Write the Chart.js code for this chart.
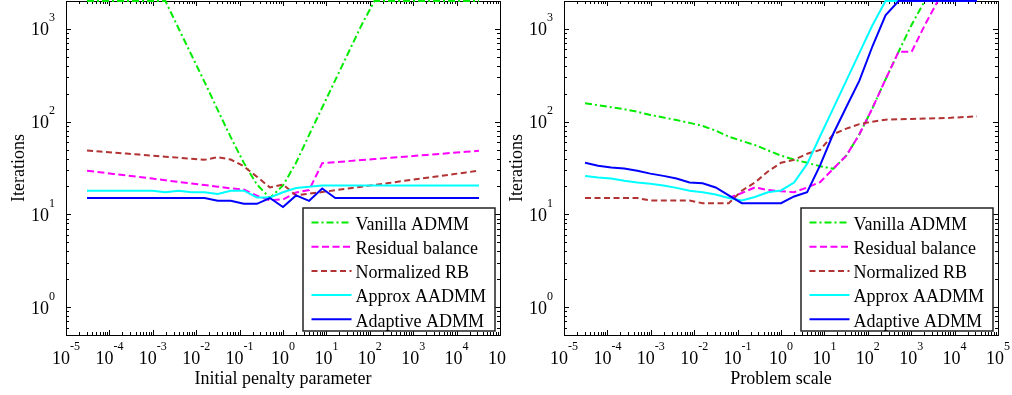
<!DOCTYPE html>
<html>
<head>
<meta charset="utf-8">
<script src="https://cdn.jsdelivr.net/npm/chart.js@4.4.1/dist/chart.umd.min.js"></script>
<style>
  html, body { margin: 0; padding: 0; background: #fff; }
  #wrap { position: relative; width: 1012px; height: 395px; }
  canvas { position: absolute; top: 0; }
  #left { left: 0; }
  #right { left: 506px; }
</style>
</head>
<body>
<div id="wrap">
  <canvas id="left" width="506" height="395"></canvas>
  <canvas id="right" width="506" height="395"></canvas>
</div>
<script>
// sweep points (powers of two, 2^-15 .. 2^15)
const xs = [3.0518e-5, 6.1035e-5, 1.2207e-4, 2.4414e-4, 4.8828e-4, 9.7656e-4, 1.9531e-3,
  3.9063e-3, 7.8125e-3, 0.015625, 0.03125, 0.0625, 0.125, 0.25, 0.5, 1, 2, 4, 8, 16, 32,
  64, 128, 256, 512, 1024, 2048, 4096, 8192, 16384, 32768];

const seriesNames = ['Vanilla ADMM', 'Residual balance', 'Normalized RB', 'Approx AADMM', 'Adaptive ADMM'];

// iterations vs initial penalty parameter
const penVanilla = [2000, 2000, 2000, 2000, 2000, 2000, 2000, 1017, 521, 267, 134, 68, 36, 21, 15,
  20.5, 36, 72, 142, 280, 553, 1091, 2000, 2000, 2000, 2000, 2000, 2000, 2000, 2000, 2000];
const penResidual = [29.5, 28.4, 27.3, 26.3, 25.3, 24.3, 23.3, 22.4, 21.5, 20.7, 19.9, 19.1, 18.5, 15.9, 14.2,
  14.5, 17.2, 18.3, 35.6, 36.5, 37.5, 38.5, 39.5, 40.5, 41.6, 42.6, 43.8, 44.9, 46.1, 47.3, 48.5];
const penNormalized = [48.8, 47.6, 46.4, 45.2, 44.1, 43.0, 41.9, 40.9, 39.8, 38.8, 41.4, 39, 33, 25.5, 19.5,
  21, 16, 16.7, 17.4, 18.2, 19.0, 19.9, 20.8, 21.7, 22.7, 23.7, 24.8, 25.9, 27.1, 28.3, 29.6];
const penApprox = [18, 18, 18, 18, 18, 18, 17.3, 18, 17.3, 17.3, 16.6, 18, 18, 15.2, 15.2,
  17.3, 19.2, 19.8, 20.5, 20.5, 20.5, 20.5, 20.5, 20.5, 20.5, 20.5, 20.5, 20.5, 20.5, 20.5, 20.5];
const penAdaptive = [15, 15, 15, 15, 15, 15, 15, 15, 15, 15, 14, 14, 13, 13, 15,
  12, 16, 14, 19, 15, 15, 15, 15, 15, 15, 15, 15, 15, 15, 15, 15];

// iterations vs problem scale (residual balance hidden under the other curves at small scales)
const scaleVanilla = [158, 150, 143, 136, 128, 118, 111, 104, 97, 90, 80, 69, 62, 56, 49,
  43, 39, 36, 33, 31, 43, 73, 140, 285, 567, 1110, 2000, 2000, 2000, 2000, 2000];
const scaleResidual = [null, null, null, null, null, null, null, null, null, null, null, 15, 17, 19.5, 18.3,
  17.8, 17.3, 19.5, 22.3, 31, 43, 73, 140, 285, 567, 567, 1095, 2000, 2000, 2000, 2000];
const scaleNormalized = [15, 15, 15, 15, 15, 14.1, 14.1, 14.1, 14.1, 13.2, 13.2, 13.2, 18, 22, 29,
  36, 38.7, 45, 49.5, 73, 84, 94, 100, 105, 106, 107, 108, 109, 110, 112, 114];
const scaleApprox = [26, 25, 24.4, 23, 22, 21.4, 20.5, 19.3, 18, 17.3, 16.4, 15, 14.1, 15.4, 17.3,
  18.1, 22, 35, 70, 139, 277, 551, 1096, 2000, 2000, 2000, 2000, 2000, 2000, 2000, 2000];
const scaleAdaptive = [36, 33.5, 32, 31.3, 29.5, 27.5, 26, 24.4, 22.1, 21.6, 19.5, 16, 13.2, 13.2, 13.2,
  13.2, 15.6, 17.3, 34, 74, 144, 277, 650, 1400, 2000, 2000, 2000, 2000, 2000, 2000, 2000];

const xTicks = [1e-5, 1e-4, 1e-3, 1e-2, 1e-1, 1, 10, 100, 1000, 1e4, 1e5];
const yTicks = [1, 10, 100, 1000];

const colors = ['rgb(0,235,0)', '#ff00ff', 'rgb(178,51,51)', '#00ffff', '#0000ff'];
const dashes = [[7, 3, 2, 3], [7, 3.5], [6, 3.5], [], []];
const FONT = '"Liberation Serif", "Times New Roman", serif';

// power-of-ten label: "10" with a raised exponent
function powLabel(ctx, v, x, y, align) {
  const e = String(Math.round(Math.log10(v)));
  ctx.font = '18px ' + FONT;
  const wb = ctx.measureText('10').width;
  ctx.font = '12px ' + FONT;
  const we = ctx.measureText(e).width;
  const left = align === 'center' ? x - (wb + we) / 2 : x - wb - we;
  ctx.textAlign = 'left';
  ctx.textBaseline = 'alphabetic';
  ctx.font = '18px ' + FONT;
  ctx.fillText('10', left, y);
  ctx.font = '12px ' + FONT;
  ctx.fillText(e, left + wb, y - 14);
}

// box and inward ticks go under the curves
const frame = {
  id: 'frame',
  beforeDatasetsDraw(chart) {
    const { ctx, chartArea: a, scales: { x, y } } = chart;
    ctx.save();
    ctx.strokeStyle = '#000';
    ctx.lineWidth = 1;
    ctx.beginPath();
    for (let e = -5; e <= 4; e++) {
      for (let m = 1; m <= 9; m++) {
        const px = Math.round(x.getPixelForValue(m * Math.pow(10, e))) + 0.5;
        const len = m === 1 ? 5 : 3;
        ctx.moveTo(px, a.bottom); ctx.lineTo(px, a.bottom - len);
        ctx.moveTo(px, a.top); ctx.lineTo(px, a.top + len);
      }
    }
    for (let e = -1; e <= 3; e++) {
      for (let m = 1; m <= 9; m++) {
        const v = m * Math.pow(10, e);
        if (v < 0.5 || v > 2000) continue;
        const py = Math.round(y.getPixelForValue(v)) + 0.5;
        const len = m === 1 ? 5 : 3;
        ctx.moveTo(a.left, py); ctx.lineTo(a.left + len, py);
        ctx.moveTo(a.right, py); ctx.lineTo(a.right - len, py);
      }
    }
    ctx.stroke();
    ctx.strokeRect(Math.round(a.left) + 0.5, Math.round(a.top) + 0.5,
      Math.round(a.right - a.left), Math.round(a.bottom - a.top));
    ctx.restore();
  },
  afterDraw(chart, args, opts) {
    const { ctx, chartArea: a, scales: { x, y } } = chart;
    ctx.save();
    ctx.fillStyle = '#000';

    xTicks.forEach(v => powLabel(ctx, v, x.getPixelForValue(v), a.bottom + 29, 'center'));
    yTicks.forEach(v => powLabel(ctx, v, a.left - 11, y.getPixelForValue(v) + 6.5, 'right'));

    // axis titles
    ctx.font = '18px ' + FONT;
    ctx.textAlign = 'center';
    ctx.textBaseline = 'alphabetic';
    ctx.fillText(opts.title, (a.left + a.right) / 2, a.bottom + 49);
    ctx.save();
    ctx.translate(a.left - 42, (a.top + a.bottom) / 2);
    ctx.rotate(-Math.PI / 2);
    ctx.fillText('Iterations', 0, 0);
    ctx.restore();

    // legend box
    const bw = 192, bh = 123;
    const bx = a.right - 5 - bw, by = a.bottom - 4 - bh;
    ctx.fillStyle = '#fff';
    ctx.fillRect(bx, by, bw, bh);
    ctx.strokeStyle = '#222';
    ctx.lineWidth = 1.5;
    ctx.strokeRect(bx, by, bw, bh);
    seriesNames.forEach((name, i) => {
      const ly = by + 14.5 + i * 24.2;
      ctx.beginPath();
      ctx.strokeStyle = colors[i];
      ctx.lineWidth = 2;
      ctx.setLineDash(dashes[i]);
      ctx.moveTo(bx + 8.5, ly);
      ctx.lineTo(bx + 48.5, ly);
      ctx.stroke();
      ctx.setLineDash([]);
      ctx.fillStyle = '#000';
      ctx.font = '18px ' + FONT;
      ctx.textAlign = 'left';
      ctx.fillText(name, bx + 52.5, ly + 7.3);
    });
    ctx.restore();
  }
};

function makePanel(id, title, series, pad) {
  return new Chart(document.getElementById(id), {
    type: 'line',
    data: {
      datasets: series.map((vals, i) => ({
        label: seriesNames[i],
        data: xs.map((xv, j) => ({ x: xv, y: vals[j] })),
        borderColor: colors[i],
        borderWidth: 2,
        borderDash: dashes[i],
        pointRadius: 0,
        fill: false,
        tension: 0,
        spanGaps: false,
        clip: 2,
        order: 5 - i
      }))
    },
    options: {
      responsive: false,
      animation: false,
      devicePixelRatio: 1,
      layout: { padding: pad },
      scales: {
        x: { type: 'logarithmic', min: 1e-5, max: 1e5, display: false },
        y: { type: 'logarithmic', min: 0.5, max: 2000, display: false }
      },
      plugins: {
        legend: { display: false },
        tooltip: { enabled: false },
        frame: { title: title }
      }
    },
    plugins: [frame]
  });
}

makePanel('left', 'Initial penalty parameter',
  [penVanilla, penResidual, penNormalized, penApprox, penAdaptive],
  { left: 66, right: 6, top: 1, bottom: 60 });
makePanel('right', 'Problem scale',
  [scaleVanilla, scaleResidual, scaleNormalized, scaleApprox, scaleAdaptive],
  { left: 58, right: 14, top: 1, bottom: 60 });
</script>
</body>
</html>
